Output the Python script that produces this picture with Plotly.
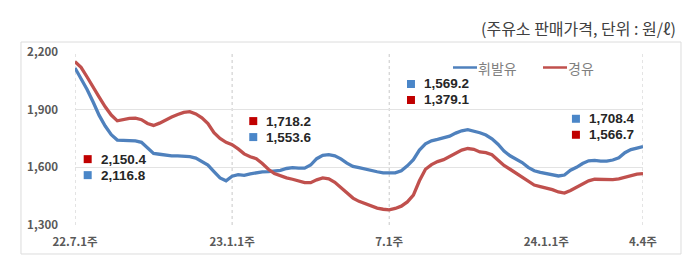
import plotly.graph_objects as go

weeks = list(range(95))
tick_pos = [0, 26, 52, 78, 94]
tick_labels = ["22.7.1주", "23.1.1주", "7.1주", "24.1.1주", "4.4주"]
dotted_at = [0, 26, 52, 94]

series_names = ["휘발유", "경유"]

gasoline = [2117, 2065, 2005, 1940, 1870, 1815, 1770, 1742, 1740, 1740,
            1738, 1730, 1700, 1672, 1668, 1662, 1660, 1660, 1658, 1656,
            1648, 1630, 1612, 1578, 1545, 1530, 1554, 1562, 1558, 1566,
            1572, 1576, 1578, 1580, 1584, 1594, 1598, 1596, 1596, 1612,
            1645, 1662, 1666, 1660, 1644, 1622, 1605, 1598, 1590, 1584,
            1577, 1571, 1569, 1571, 1582, 1608, 1640, 1690, 1722, 1738,
            1745, 1752, 1762, 1778, 1790, 1796, 1790, 1780, 1768, 1748,
            1720, 1685, 1660, 1642, 1625, 1600, 1582, 1574, 1568, 1562,
            1555, 1560, 1585, 1600, 1620, 1634, 1636, 1632, 1632, 1638,
            1650, 1676, 1692, 1700, 1708]

diesel = [2150, 2120, 2070, 2015, 1965, 1915, 1872, 1842, 1848, 1855,
          1856, 1848, 1828, 1818, 1830, 1848, 1862, 1875, 1886, 1890,
          1878, 1858, 1828, 1780, 1750, 1730, 1718, 1696, 1670, 1655,
          1645, 1620, 1590, 1568, 1555, 1545, 1538, 1528, 1520, 1520,
          1535, 1545, 1540, 1522, 1494, 1466, 1440, 1423, 1410, 1398,
          1388, 1382, 1379, 1386, 1398, 1420, 1455, 1530, 1590, 1614,
          1630, 1640, 1658, 1672, 1690, 1698, 1694, 1680, 1676, 1666,
          1640, 1610, 1590, 1570, 1550, 1528, 1508, 1500, 1494, 1484,
          1472, 1466, 1480, 1498, 1515, 1530, 1538, 1536, 1536, 1536,
          1540, 1548, 1558, 1565, 1567]

# value callouts: anchor week, anchor value (middle of the two rows),
# top row / bottom row texts and which series each row belongs to
callout_weeks = [2.1, 29.5, 55.6, 82.9]
callout_mid_y = [1601, 1799, 1992, 1811]
callout_top_txt = ["2,150.4", "1,718.2", "1,569.2", "1,708.4"]
callout_bot_txt = ["2,116.8", "1,553.6", "1,379.1", "1,566.7"]
callout_top_is_gas = [False, False, True, True]

BLUE = "#4F81BD"
RED = "#C0504D"
SQ_BLUE = "#4A86C8"
SQ_RED = "#C00000"
FONT = "Noto Sans CJK KR"
NUM_FONT = "Liberation Sans"
ROW = 8  # half row spacing in px

fig = go.Figure()
fig.add_trace(go.Scatter(x=weeks, y=gasoline, mode="lines", name=series_names[0],
                         line=dict(color=BLUE, width=3.3), showlegend=False))
fig.add_trace(go.Scatter(x=weeks, y=diesel, mode="lines", name=series_names[1],
                         line=dict(color=RED, width=3.3), showlegend=False))

shapes = []
for w in dotted_at:
    shapes.append(dict(type="line", xref="x", yref="y", x0=w, x1=w, y0=1300, y1=2200,
                       line=dict(color="#c8c8c8", width=1, dash="dot"), layer="below"))
# outer border
shapes.append(dict(type="rect", xref="paper", yref="paper",
                   x0=-0.0951, x1=1.0669, y0=-0.1676, y1=1.0578,
                   line=dict(color="#dcdcdc", width=1)))

annotations = []
for w, my, tt, bt, top_gas in zip(callout_weeks, callout_mid_y, callout_top_txt,
                                  callout_bot_txt, callout_top_is_gas):
    top_col = SQ_BLUE if top_gas else SQ_RED
    bot_col = SQ_RED if top_gas else SQ_BLUE
    for off, col, txt in ((ROW, top_col, tt), (-ROW, bot_col, bt)):
        shapes.append(dict(type="rect", xref="x", yref="y",
                           xsizemode="pixel", ysizemode="pixel",
                           xanchor=w, yanchor=my, x0=-4, x1=4,
                           y0=off - 4, y1=off + 4,
                           fillcolor=col, line=dict(width=0)))
        annotations.append(dict(x=w, y=my, xref="x", yref="y", text=txt,
                                showarrow=False, xanchor="left", yanchor="middle",
                                xshift=12, yshift=off, borderpad=0,
                                font=dict(family=NUM_FONT, size=13.5,
                                          color="#262626", weight="bold")))

# unit note
annotations.append(dict(x=1.0616, y=1.139, xref="paper", yref="paper",
                        text="(주유소 판매가격, 단위 : 원/ℓ)", showarrow=False,
                        xanchor="right", yanchor="middle",
                        font=dict(family=FONT, size=16, color="#404040")))

# custom legend (short line + label)
W, H, L, B = 568.0, 173.0, 75.0, 225.0
def px(xp):
    return (xp - L) / W
def py(yp):
    return (B - yp) / H
leg_y = py(67.5)
for (x0, x1, tx), col, name in zip(((453, 477, 477), (543, 567, 567)),
                                   (BLUE, RED), series_names):
    shapes.append(dict(type="line", xref="paper", yref="paper",
                       x0=px(x0), x1=px(x1), y0=leg_y, y1=leg_y,
                       line=dict(color=col, width=2.5)))
    annotations.append(dict(x=px(tx), y=leg_y, xref="paper", yref="paper",
                            text=name, showarrow=False, xanchor="left",
                            yanchor="middle", borderpad=0,
                            font=dict(family=FONT, size=14, color="#7f7f7f")))

fig.update_layout(
    width=700, height=272,
    margin=dict(l=75, r=57, t=52, b=47),
    paper_bgcolor="white", plot_bgcolor="white",
    font=dict(family=FONT),
    shapes=shapes, annotations=annotations,
    showlegend=False,
    xaxis=dict(range=[0, 94], tickvals=tick_pos, ticktext=tick_labels,
               showgrid=False, zeroline=False, showline=False, ticks="",
               ticklabelstandoff=8,
               tickfont=dict(family=FONT, size=11.5, color="#595959", weight="bold")),
    yaxis=dict(range=[1300, 2200], tickvals=[1300, 1600, 1900, 2200],
               ticktext=["1,300", "1,600", "1,900", "2,200"],
               showgrid=True, gridcolor="#e3e3e3", gridwidth=1,
               zeroline=False, showline=False, ticks="",
               ticklabelstandoff=16,
               tickfont=dict(family=FONT, size=11.5, color="#595959", weight="bold")),
)

fig.write_html("out.html")
